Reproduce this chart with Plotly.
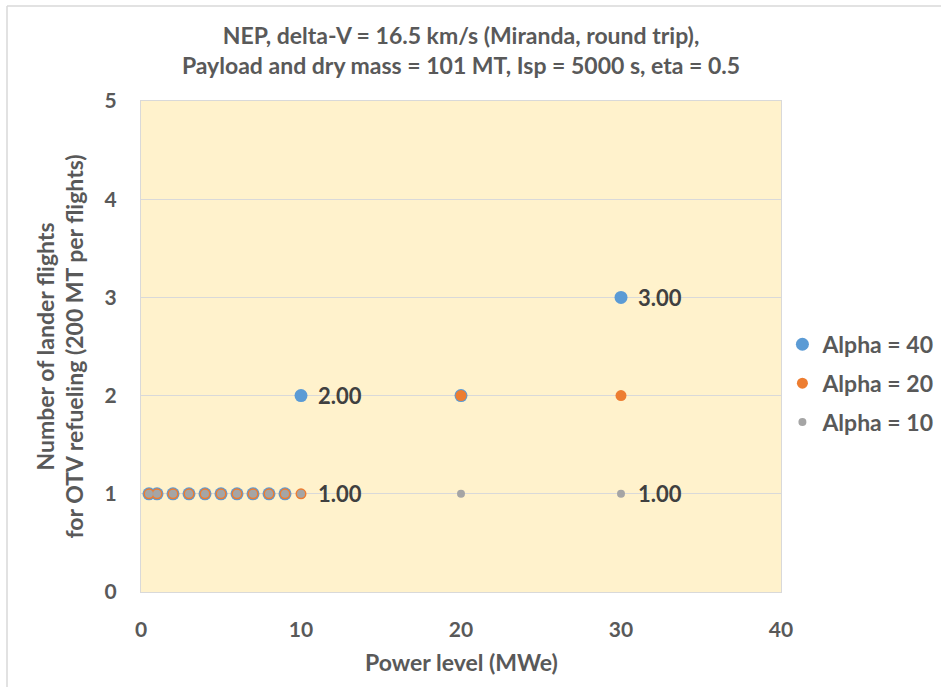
import plotly.graph_objects as go

power = [0.5, 1, 2, 3, 4, 5, 6, 7, 8, 9, 10, 20, 30]
alpha40 = [1, 1, 1, 1, 1, 1, 1, 1, 1, 1, 2, 2, 3]
alpha20 = [1, 1, 1, 1, 1, 1, 1, 1, 1, 1, 1, 2, 2]
alpha10 = [1, 1, 1, 1, 1, 1, 1, 1, 1, 1, 1, 1, 1]
series_names = ["Alpha = 40", "Alpha = 20", "Alpha = 10"]
colors = ["#5B9BD5", "#ED7D31", "#A5A5A5"]
sizes = [13, 11, 8]

labels = [  # (x, y) of labelled points
    (10, 2), (30, 3), (10, 1), (30, 1)
]

FONT = "Lato"
TXT = "#595959"

W, H = 960, 700
ML, MR, MT, MB = 141, 179, 101, 108
PW, PH = W - ML - MR, H - MT - MB

fig = go.Figure()
for i, (name, ys) in enumerate(zip(series_names, [alpha40, alpha20, alpha10])):
    fig.add_trace(go.Scatter(
        x=power, y=ys, mode="markers", name=name,
        legendgroup=name,
        marker=dict(color=colors[i], size=sizes[i], line=dict(width=0)),
    ))

annotations = []
for (lx, ly) in labels:
    annotations.append(dict(
        x=lx, y=ly, xref="x", yref="y", text=f"{ly:.2f}", showarrow=False,
        xanchor="left", yanchor="middle", xshift=15,
        font=dict(family=FONT, size=22, color="#404040", weight="bold"),
    ))

annotations.append(dict(
    x=-0.128, y=0.5, xref="paper", yref="paper", xanchor="center", yanchor="middle",
    text="Number of lander flights<br>for OTV refueling (200 MT per flights)",
    textangle=-90, showarrow=False,
    font=dict(family=FONT, size=23, color=TXT, weight="bold"),
))
annotations.append(dict(
    x=0.5, y=-0.1426, xref="paper", yref="paper", xanchor="center", yanchor="middle",
    text="Power level (MWe)", showarrow=False,
    font=dict(family=FONT, size=23, color=TXT, weight="bold"),
))

fig.update_layout(
    width=W, height=H,
    margin=dict(l=ML, r=MR, t=MT, b=MB),
    paper_bgcolor="white", plot_bgcolor="#FFF2CC",
    title=dict(
        text="NEP, delta-V = 16.5 km/s (Miranda, round trip),<br>Payload and dry mass = 101 MT, Isp = 5000 s, eta = 0.5",
        x=0.5, xref="paper", xanchor="center", y=0.937, yanchor="middle",
        font=dict(family=FONT, size=23, color=TXT, weight="bold"),
    ),
    font=dict(family=FONT, size=21, color=TXT, weight="bold"),
    xaxis=dict(
        range=[0, 40], dtick=10, tick0=0, showgrid=False, zeroline=False,
        showline=True, linecolor="#D9D9D9", linewidth=1, mirror=True,
        ticks="", ticklabelstandoff=19,
        tickfont=dict(family=FONT, size=21, color=TXT, weight="bold"),
    ),
    yaxis=dict(
        range=[0, 5], dtick=1, tick0=0, showgrid=True, gridcolor="#D9D9D9",
        zeroline=False, showline=True, linecolor="#D9D9D9", linewidth=1, mirror=True,
        ticks="", ticklabelstandoff=19,
        tickfont=dict(family=FONT, size=21, color=TXT, weight="bold"),
    ),
    legend=dict(
        x=1.0022, xanchor="left", y=0.425, yanchor="middle",
        font=dict(family=FONT, size=23, color=TXT, weight="bold"),
        tracegroupgap=6, itemwidth=30, bgcolor="rgba(0,0,0,0)",
    ),
    annotations=annotations,
)

# outer chart border (top and left edges visible in reference)
bx = (7 - ML) / PW
by = 1 + (MT - 6) / PH
fig.add_shape(type="line", xref="paper", yref="paper",
              x0=bx, x1=(W - ML) / PW, y0=by, y1=by,
              line=dict(color="#D9D9D9", width=1.5))
fig.add_shape(type="line", xref="paper", yref="paper",
              x0=bx, x1=bx, y0=by, y1=-MB / PH,
              line=dict(color="#D9D9D9", width=1.5))

fig.write_html(
    "out.html",
    config={"displayModeBar": False},
    post_script="document.documentElement.style.overflow='hidden';"
                "document.body.style.margin='0';document.body.style.overflow='hidden';",
)
